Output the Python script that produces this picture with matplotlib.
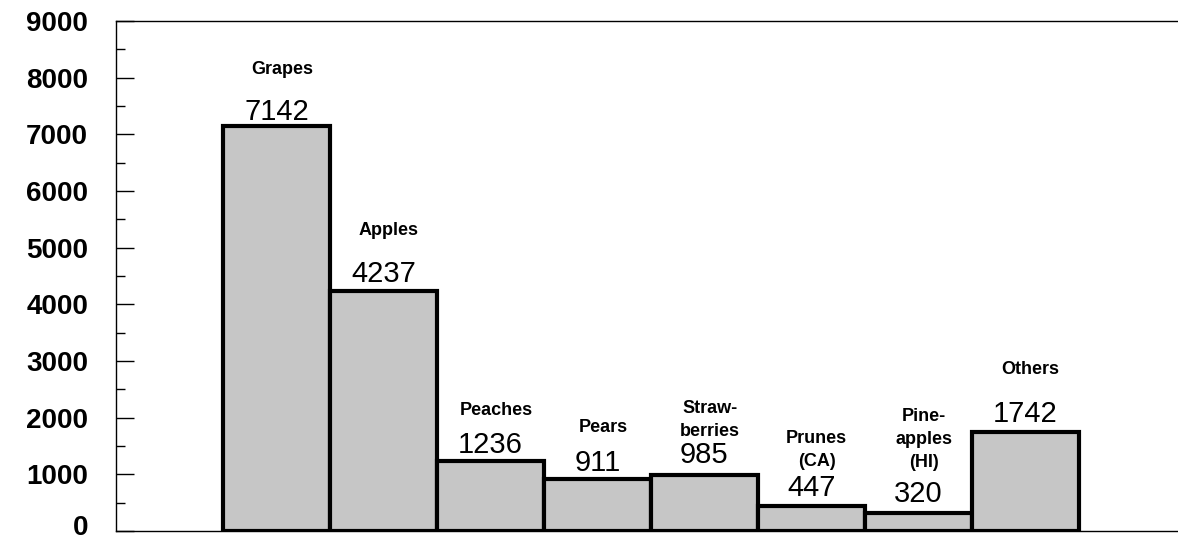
import matplotlib.pyplot as plt
import matplotlib.transforms as mtransforms
import numpy as np

plt.rcParams['font.family'] = ['Liberation Sans', 'DejaVu Sans']

fruits = ["Grapes", "Apples", "Peaches", "Pears", "Straw-\nberries",
          "Prunes\n(CA)", "Pine-\napples\n(HI)", "Others"]
values = [7142, 4237, 1236, 911, 985, 447, 320, 1742]
yticks = [0, 1000, 2000, 3000, 4000, 5000, 6000, 7000, 8000, 9000]

fig = plt.figure(figsize=(11.78, 5.41), dpi=100)
ax = fig.add_axes([116/1178, 10/541, 1 - 116/1178, 510/541])

x = np.arange(len(values))
ax.bar(x, values, width=1.0, color="#c6c6c6", edgecolor="black", linewidth=3.0, zorder=3)

# label offsets above the bar tops (points)
num_gap = [4.5, 6.5, 5.8, 5.8, 8.5, 7.2, 7.5, 7.2]
name_gap = [34.5, 37.5, 30.5, 31, 25.5, 25.5, 30.5, 39]
for xi, v, name, g1, g2 in zip(x, values, fruits, num_gap, name_gap):
    ax.annotate(f"{v}", (xi, v), xytext=(0, g1), textcoords="offset points",
                ha="center", va="baseline", fontsize=21)
    ax.annotate(name, (xi, v), xytext=(4, g2), textcoords="offset points",
                ha="center", va="bottom", fontsize=13, fontweight="bold",
                linespacing=1.45)

ax.set_xlim(-1.5, 8.43)
ax.set_ylim(0, 9000)
ax.set_xticks([])
ax.set_yticks(yticks)
ax.set_yticks(np.arange(500, 9000, 1000), minor=True)
ax.tick_params(axis="y", which="major", direction="in", length=13, width=1, pad=20,
               labelsize=20)
ax.tick_params(axis="y", which="minor", direction="in", length=6.5, width=1)
for lab in ax.get_yticklabels():
    lab.set_fontweight("bold")
# lift the "0" a little so it stays inside the figure
zero = ax.get_yticklabels()[0]
zero.set_transform(zero.get_transform() +
                   mtransforms.ScaledTranslation(0, 6/100, fig.dpi_scale_trans))

ax.spines["right"].set_visible(False)
for s in ["left", "top", "bottom"]:
    ax.spines[s].set_linewidth(1.0)

fig.savefig("out.png", dpi=100)
